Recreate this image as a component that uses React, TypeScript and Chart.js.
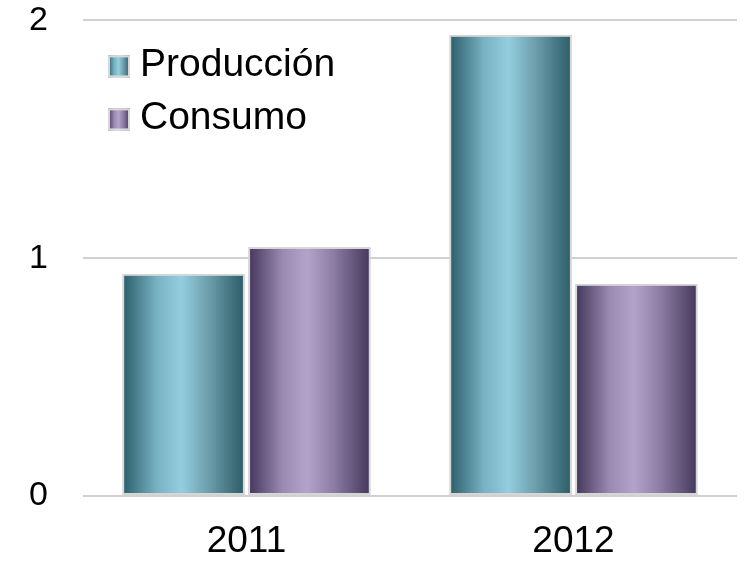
import React, { useEffect, useRef } from "react";
import { Chart, registerables } from "chart.js";

Chart.register(...registerables);

const categories = ["2011", "2012"];
const produccion = [0.935, 1.94];
const consumo = [1.047, 0.893];
const seriesNames = ["Producción", "Consumo"];
const yTicks = [0, 1, 2];

const tealStops: [number, string][] = [
  [0, "#2a5c68"],
  [0.28, "#78b1c1"],
  [0.48, "#94cede"],
  [0.7, "#6d9fac"],
  [1, "#2a5b67"],
];
const purpleStops: [number, string][] = [
  [0, "#43355a"],
  [0.28, "#9a89b1"],
  [0.48, "#b4a3c9"],
  [0.7, "#8c7ba3"],
  [1, "#44375a"],
];
const palettes = [tealStops, purpleStops];

const CAT_PCT = 0.77;
const BAR_PCT = 0.975;
const FONT = "'Liberation Sans', Arial, sans-serif";

function makeGradient(ctx: CanvasRenderingContext2D, x0: number, x1: number, stops: [number, string][]) {
  const g = ctx.createLinearGradient(x0, 0, x1, 0);
  stops.forEach(([o, c]) => g.addColorStop(o, c));
  return g;
}

export default function App() {
  const ref = useRef<HTMLCanvasElement | null>(null);

  useEffect(() => {
    if (!ref.current) return;

    const barFill = (dsIndex: number) => (c: any) => {
      const chart = c.chart;
      const x = chart.scales?.x;
      const stops = palettes[dsIndex];
      if (!x || typeof c.dataIndex !== "number") return stops[2][1];
      const nCats = categories.length;
      const catW = x.width / nCats;
      const center = x.getPixelForValue(c.dataIndex);
      const groupW = catW * CAT_PCT;
      const slot = groupW / 2;
      const left = center - groupW / 2 + dsIndex * slot + (slot * (1 - BAR_PCT)) / 2;
      const w = slot * BAR_PCT;
      if (!isFinite(left) || !isFinite(w) || w <= 0) return stops[2][1];
      return makeGradient(chart.ctx, left, left + w, stops);
    };

    const legendPlugin = {
      id: "insideLegend",
      afterDraw(chart: any) {
        const ctx = chart.ctx as CanvasRenderingContext2D;
        const area = chart.chartArea;
        ctx.save();
        chart.data.datasets.forEach((ds: any, i: number) => {
          const bx = area.left + 25;
          const cy = area.top + 46 + i * 53;
          const size = 22;
          ctx.fillStyle = makeGradient(ctx, bx, bx + size, palettes[i]);
          ctx.fillRect(bx, cy - size / 2, size, size);
          ctx.strokeStyle = "#d8d8d8";
          ctx.lineWidth = 2;
          ctx.strokeRect(bx + 1, cy - size / 2 + 1, size - 2, size - 2);
          ctx.fillStyle = "#000";
          ctx.font = `39px ${FONT}`;
          ctx.textBaseline = "middle";
          ctx.textAlign = "left";
          ctx.fillText(ds.label, bx + 32, cy - 1);
        });
        ctx.restore();
      },
    };

    const chart = new Chart(ref.current, {
      type: "bar",
      data: {
        labels: categories,
        datasets: [
          {
            label: seriesNames[0],
            data: produccion,
            backgroundColor: barFill(0),
            borderColor: "#d6d6d6",
            borderWidth: 2,
            borderSkipped: false,
            categoryPercentage: CAT_PCT,
            barPercentage: BAR_PCT,
          },
          {
            label: seriesNames[1],
            data: consumo,
            backgroundColor: barFill(1),
            borderColor: "#d6d6d6",
            borderWidth: 2,
            borderSkipped: false,
            categoryPercentage: CAT_PCT,
            barPercentage: BAR_PCT,
          },
        ],
      },
      options: {
        animation: false,
        responsive: false,
        maintainAspectRatio: false,
        layout: { padding: { top: 0, right: 7, left: 29, bottom: 0 } },
        plugins: {
          legend: { display: false },
          tooltip: { enabled: false },
        },
        scales: {
          x: {
            grid: { display: false, drawTicks: false },
            border: { display: false },
            ticks: {
              color: "#000",
              font: { family: FONT, size: 37 },
              padding: 24,
            },
            afterFit: (s: any) => {
              s.height = 66;
            },
          },
          y: {
            min: 0,
            max: 2,
            afterBuildTicks: (s: any) => {
              s.ticks = yTicks.map((v) => ({ value: v }));
            },
            grid: { color: "#d0d0d0", lineWidth: 2, drawTicks: false },
            border: { display: false },
            ticks: {
              color: "#000",
              font: { family: FONT, size: 34 },
              padding: 0,
              crossAlign: "far",
            },
            afterFit: (s: any) => {
              s.width = 54;
            },
          },
        },
      },
      plugins: [legendPlugin],
    });

    return () => chart.destroy();
  }, []);

  return (
    <div style={{ position: "fixed", left: 0, top: 0, width: 744, height: 562, background: "#fff" }}>
      <canvas ref={ref} width={744} height={562} style={{ width: 744, height: 562, display: "block" }} />
    </div>
  );
}
